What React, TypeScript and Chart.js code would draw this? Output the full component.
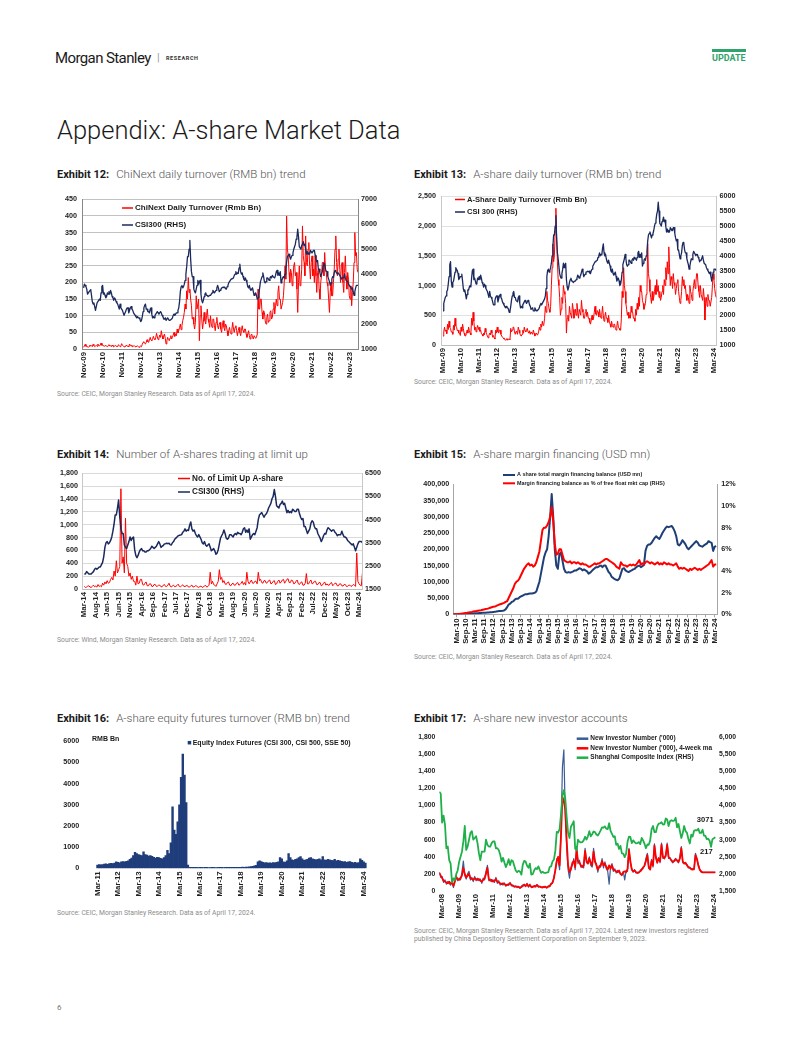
import React, { useEffect, useRef } from 'react';
import { Chart, registerables } from 'chart.js';

Chart.register(...registerables);

// ---------------- tick labels ----------------
const X12_LABELS = ['Nov-09', 'Nov-10', 'Nov-11', 'Nov-12', 'Nov-13', 'Nov-14', 'Nov-15', 'Nov-16', 'Nov-17', 'Nov-18', 'Nov-19', 'Nov-20', 'Nov-21', 'Nov-22', 'Nov-23'];
const X13_LABELS = ['Mar-09', 'Mar-10', 'Mar-11', 'Mar-12', 'Mar-13', 'Mar-14', 'Mar-15', 'Mar-16', 'Mar-17', 'Mar-18', 'Mar-19', 'Mar-20', 'Mar-21', 'Mar-22', 'Mar-23', 'Mar-24'];
const X14_LABELS = ['Mar-14', 'Aug-14', 'Jan-15', 'Jun-15', 'Nov-15', 'Apr-16', 'Sep-16', 'Feb-17', 'Jul-17', 'Dec-17', 'May-18', 'Oct-18', 'Mar-19', 'Aug-19', 'Jan-20', 'Jun-20', 'Nov-20', 'Apr-21', 'Sep-21', 'Feb-22', 'Jul-22', 'Dec-22', 'May-23', 'Oct-23', 'Mar-24'];
const X15_LABELS = ['Mar-10', 'Sep-10', 'Mar-11', 'Sep-11', 'Mar-12', 'Sep-12', 'Mar-13', 'Sep-13', 'Mar-14', 'Sep-14', 'Mar-15', 'Sep-15', 'Mar-16', 'Sep-16', 'Mar-17', 'Sep-17', 'Mar-18', 'Sep-18', 'Mar-19', 'Sep-19', 'Mar-20', 'Sep-20', 'Mar-21', 'Sep-21', 'Mar-22', 'Sep-22', 'Mar-23', 'Sep-23', 'Mar-24'];
const X16_LABELS = ['Mar-11', 'Mar-12', 'Mar-13', 'Mar-14', 'Mar-15', 'Mar-16', 'Mar-17', 'Mar-18', 'Mar-19', 'Mar-20', 'Mar-21', 'Mar-22', 'Mar-23', 'Mar-24'];
const X17_LABELS = ['Mar-08', 'Mar-09', 'Mar-10', 'Mar-11', 'Mar-12', 'Mar-13', 'Mar-14', 'Mar-15', 'Mar-16', 'Mar-17', 'Mar-18', 'Mar-19', 'Mar-20', 'Mar-21', 'Mar-22', 'Mar-23', 'Mar-24'];

// ---------------- series ----------------
// CSI300, half-monthly, Mar-09 .. Apr-24
const CSI300 = [
  2150, 2400, 2500, 2600, 2650, 2800, 2850, 3050, 3300, 3700, 3800, 3150, 2950, 3100, 3150, 3300, 3450, 3600, 3550, 3500,
  3400, 3200, 3250, 3300, 3300, 3380, 3150, 2900, 2800, 2850, 2700, 2550, 2700, 2850, 2850, 2950, 3000, 2950, 3250, 3500, 3550, 3200, 3250, 3150,
  3050, 3100, 3250, 3200, 3300, 3200, 3350, 3250, 3100, 3050, 2950, 3050, 3000, 2900, 2850, 2800, 2700, 2600, 2800, 2650, 2600, 2550, 2450, 2350,
  2350, 2500, 2600, 2650, 2650, 2450, 2550, 2650, 2700, 2600, 2550, 2450, 2400, 2350, 2300, 2250, 2300, 2250, 2250, 2200, 2100, 2150, 2300, 2500,
  2650, 2750, 2800, 2600, 2600, 2500, 2500, 2450, 2600, 2650, 2400, 2250, 2300, 2250, 2350, 2400, 2450, 2500, 2450, 2400, 2450, 2500, 2450, 2350,
  2300, 2200, 2200, 2250, 2150, 2150, 2250, 2200, 2150, 2150, 2150, 2200, 2250, 2350, 2400, 2350, 2400, 2450, 2450, 2550, 2650, 2900, 3300, 3500,
  3550, 3450, 3500, 3600, 3750, 4000, 4300, 4700, 4700, 5000, 5350, 4600, 4100, 3900, 3900, 3400, 3300, 3250, 3400, 3550, 3750, 3600, 3700, 3750,
  3200, 2950, 2850, 2950, 3100, 3200, 3250, 3150, 3150, 3100, 3100, 3150, 3150, 3200, 3250, 3350, 3300, 3250, 3300, 3350, 3450, 3550, 3450, 3300,
  3350, 3380, 3450, 3460, 3480, 3460, 3480, 3420, 3400, 3500, 3550, 3650, 3700, 3750, 3800, 3820, 3830, 3850, 3950, 4000, 4100, 4000, 4050, 4030,
  4250, 4400, 4100, 4000, 4050, 3900, 3800, 3750, 3850, 3750, 3650, 3500, 3450, 3550, 3400, 3350, 3400, 3450, 3300, 3150, 3200, 3250, 3150, 3000,
  3050, 3200, 3450, 3700, 3800, 3900, 4050, 3900, 3700, 3650, 3700, 3850, 3850, 3800, 3750, 3850, 3900, 3850, 3950, 3900, 3900, 3850, 3950, 4100,
  4150, 3950, 4050, 3950, 4100, 3650, 3750, 3850, 3900, 3850, 4000, 4150, 4500, 4700, 4750, 4800, 4700, 4600, 4700, 4750, 4850, 5000, 5100, 5200,
  5400, 5500, 5800, 5500, 5100, 5050, 5000, 5150, 5200, 5300, 5150, 5200, 5000, 4800, 4900, 4800, 4850, 4800, 4950, 4900, 4850, 4850, 4950, 4950,
  4750, 4600, 4500, 4550, 4200, 4200, 4050, 3900, 4000, 4100, 4350, 4450, 4400, 4200, 4100, 4100, 3900, 3800, 3700, 3550, 3650, 3800, 3900, 3870,
  4050, 4150, 4100, 4050, 4000, 4050, 4050, 3950, 3900, 3800, 3850, 3850, 3850, 4000, 3850, 3750, 3750, 3700, 3600, 3550, 3500, 3450, 3400, 3450,
  3300, 3150, 3300, 3450, 3550, 3550, 3550, 3500,
];
// ChiNext daily turnover (Rmb bn), half-monthly, Nov-09 .. Apr-24
const CHINEXT_TURNOVER = [
  5, 9, 14, 8,
  9, 6, 5, 8, 12, 9, 10, 7, 14, 10, 7, 9, 11, 8, 15, 10, 9, 12, 18, 11, 13, 9, 8, 10,
  11, 8, 7, 10, 13, 9, 10, 7, 12, 9, 6, 8, 11, 8, 9, 7, 13, 10, 7, 9, 16, 11, 9, 7,
  6, 9, 12, 8, 9, 7, 15, 10, 11, 8, 7, 9, 10, 7, 6, 9, 9, 7, 5, 8, 9, 7, 14, 20,
  22, 17, 15, 20, 28, 22, 20, 26, 35, 27, 25, 31, 38, 30, 28, 34, 47, 36, 28, 33, 42, 35, 55, 40,
  30, 38, 45, 32, 15, 25, 35, 28, 25, 33, 40, 30, 35, 42, 50, 38, 45, 40, 60, 48, 55, 65, 75, 58,
  70, 85, 95, 110, 135, 120, 175, 150, 215, 170, 180, 150, 130, 90, 95, 75, 60, 80, 160, 120, 120, 150, 25, 100,
  130, 90, 60, 80, 110, 85, 75, 100, 120, 90, 80, 65, 100, 75, 65, 90, 90, 70, 55, 80, 95, 70, 60, 75,
  80, 60, 50, 70, 85, 65, 55, 75, 70, 55, 40, 55, 65, 50, 45, 60, 80, 60, 50, 65, 70, 55, 40, 55,
  65, 50, 40, 55, 70, 55, 50, 60, 60, 45, 35, 45, 55, 40, 30, 42, 45, 35, 30, 40, 40, 32, 35, 45,
  180, 120, 120, 150, 150, 110, 90, 115, 110, 85, 75, 95, 105, 80, 85, 110, 115, 90, 95, 120, 140, 105, 130, 150,
  130, 170, 190, 150, 150, 120, 120, 140, 160, 200, 250, 210, 400, 300, 280, 230, 200, 240, 230, 190, 210, 250, 260, 220,
  230, 180, 110, 200, 250, 190, 200, 240, 370, 280, 260, 220, 340, 260, 250, 300, 320, 250, 210, 260, 280, 220, 240, 200,
  280, 220, 170, 230, 240, 180, 150, 200, 220, 260, 260, 220, 290, 240, 230, 200, 190, 150, 110, 170, 200, 160, 160, 200,
  240, 300, 340, 260, 220, 270, 300, 240, 200, 250, 260, 200, 170, 230, 280, 220, 180, 230, 210, 160, 150, 190, 130, 170,
  200, 260, 350, 280, 290, 240, 230, 220,
];
// A-share daily turnover (Rmb bn), half-monthly, Mar-09 .. Apr-24
const ASHARE_TURNOVER = [
  150, 220, 300, 230, 250, 190, 350, 260, 400, 300, 280, 220, 220, 180, 330, 250, 450, 320, 300, 240,
  250, 200, 200, 160, 300, 230, 350, 280, 200, 160, 150, 190, 250, 200, 300, 240, 200, 170, 450, 330, 550, 400, 250, 300,
  220, 280, 330, 260, 300, 230, 250, 190, 180, 150, 200, 170, 280, 220, 180, 150, 120, 160, 200, 170, 250, 200, 130, 160,
  120, 100, 250, 200, 300, 220, 200, 250, 250, 180, 150, 130, 120, 100, 100, 80, 90, 110, 80, 100, 100, 90, 280, 220,
  250, 300, 300, 220, 180, 230, 220, 180, 300, 250, 200, 160, 150, 180, 250, 200, 300, 240, 220, 260, 280, 220, 200, 240,
  180, 220, 220, 180, 250, 200, 150, 180, 200, 170, 180, 220, 300, 250, 350, 300, 400, 330, 350, 450, 650, 550, 900, 750,
  700, 600, 550, 650, 1000, 1300, 1700, 1400, 1500, 1900, 2300, 1800, 1400, 1100, 1000, 800, 500, 600, 800, 700, 1000, 900, 850, 700,
  200, 450, 500, 400, 650, 550, 550, 450, 700, 600, 450, 500, 600, 500, 700, 550, 450, 600, 600, 500, 750, 600, 550, 450,
  450, 550, 600, 480, 550, 450, 450, 380, 350, 420, 500, 420, 450, 550, 650, 520, 500, 580, 550, 470, 600, 500, 450, 520,
  650, 500, 400, 480, 550, 450, 450, 380, 500, 400, 350, 300, 400, 330, 300, 350, 350, 280, 250, 320, 400, 300, 280, 250,
  250, 450, 900, 800, 1300, 1000, 900, 700, 600, 500, 550, 450, 500, 450, 650, 550, 550, 450, 450, 400, 600, 500, 700, 600,
  800, 650, 1000, 900, 900, 750, 700, 600, 650, 700, 850, 900, 1700, 1200, 1100, 900, 800, 700, 900, 750, 800, 900, 1000, 850,
  1100, 900, 1000, 800, 900, 750, 800, 900, 1000, 850, 1100, 1000, 1300, 1100, 1400, 1200, 1650, 1300, 1000, 1150, 1100, 950, 1200, 1050,
  1000, 850, 950, 1050, 1100, 900, 800, 700, 750, 900, 1150, 1000, 1100, 950, 1000, 850, 750, 850, 800, 700, 1000, 900, 850, 750,
  900, 1000, 1100, 950, 1050, 1200, 1200, 1000, 900, 800, 1000, 850, 850, 750, 950, 800, 420, 700, 800, 650, 850, 750, 750, 650,
  650, 800, 1000, 1200, 1100, 950, 850, 800,
];
// No. of limit-up A-shares, half-monthly, Mar-14 .. Apr-24
const LIMIT_UP = [
  40, 25, 30, 45, 50, 30, 25, 40, 60, 35, 45, 30, 70, 40, 50, 35, 90, 60, 110, 80,
  130, 90, 100, 150, 180, 140, 280, 200, 440, 250, 300, 350, 1560, 400, 500, 250, 1100, 400, 350, 200, 250, 150, 200, 120,
  120, 60, 200, 80, 90, 150, 150, 70, 60, 90, 110, 50, 50, 80, 80, 40, 40, 70, 70, 40, 45, 60, 60, 35,
  35, 60, 70, 40, 40, 60, 90, 45, 30, 50, 60, 35, 40, 55, 75, 40, 35, 50, 65, 40, 40, 50, 55, 30,
  30, 50, 60, 30, 35, 50, 50, 30, 25, 40, 45, 25, 30, 50, 55, 30, 40, 60, 260, 80, 120, 70, 60, 40,
  80, 120, 300, 150, 180, 100, 130, 80, 70, 100, 110, 60, 50, 80, 90, 60, 60, 90, 100, 60, 70, 90, 120, 70,
  100, 60, 260, 120, 80, 110, 140, 90, 90, 120, 120, 80, 260, 130, 150, 100, 90, 130, 130, 90, 100, 130, 140, 80,
  90, 120, 130, 70, 80, 120, 140, 90, 110, 140, 150, 90, 120, 150, 160, 100, 100, 140, 130, 80, 90, 120, 140, 80,
  70, 100, 110, 60, 60, 90, 240, 80, 80, 120, 140, 80, 90, 120, 120, 70, 70, 100, 100, 50, 60, 90, 110, 60,
  80, 60, 60, 90, 100, 50, 70, 90, 90, 50, 50, 80, 80, 50, 45, 70, 70, 40, 40, 60, 60, 40, 50, 70,
  60, 40, 560, 120, 80, 60, 50, 250,
];
// Margin financing balance (USD mn), monthly, Jan-10 .. Apr-24
const MARGIN_BALANCE = [
  0, 0, 0, 300, 500, 700, 900, 1100, 1300, 1600, 2000, 2200,
  2500, 2800, 3000, 3300, 3600, 3900, 4200, 4500, 4700, 5000, 5300, 5500,
  6000, 6500, 7000, 7500, 8500, 9500, 10000, 10500, 11000, 12000, 15000, 22000,
  30000, 33000, 38000, 40000, 45000, 48000, 48000, 52000, 55000, 57000, 60000, 62000,
  62000, 63000, 64000, 64000, 65000, 66000, 70000, 85000, 100000, 125000, 150000, 175000,
  190000, 200000, 240000, 300000, 370000, 300000, 200000, 150000, 140000, 185000, 190000, 165000,
  140000, 130000, 128000, 130000, 128000, 130000, 132000, 135000, 135000, 138000, 142000, 140000,
  135000, 138000, 135000, 132000, 125000, 128000, 133000, 138000, 142000, 145000, 145000, 148000,
  150000, 145000, 150000, 150000, 140000, 130000, 125000, 115000, 112000, 108000, 106000, 105000,
  110000, 125000, 140000, 142000, 135000, 132000, 130000, 133000, 135000, 138000, 140000, 145000,
  148000, 150000, 145000, 148000, 152000, 195000, 210000, 215000, 215000, 220000, 228000, 235000,
  240000, 235000, 232000, 240000, 250000, 258000, 265000, 270000, 268000, 270000, 272000, 265000,
  255000, 240000, 215000, 212000, 218000, 228000, 222000, 215000, 205000, 200000, 205000, 210000,
  215000, 220000, 225000, 220000, 212000, 210000, 208000, 212000, 215000, 218000, 225000, 222000,
  220000, 195000, 208000, 210000,
];
// Margin balance as % of free float mkt cap, monthly, Jan-10 .. Apr-24
const MARGIN_PCT = [
  0, 0, 0, 0.02, 0.04, 0.06, 0.08, 0.1, 0.12, 0.14, 0.17, 0.2,
  0.22, 0.25, 0.28, 0.3, 0.33, 0.36, 0.38, 0.42, 0.45, 0.48, 0.5, 0.55,
  0.6, 0.65, 0.7, 0.72, 0.78, 0.85, 0.9, 0.95, 1.0, 1.05, 1.15, 1.2,
  1.5, 1.8, 2.1, 2.4, 2.8, 3.0, 3.1, 3.3, 3.6, 3.9, 4.2, 4.4,
  4.6, 4.7, 4.5, 4.6, 4.4, 4.5, 4.8, 5.3, 5.8, 6.8, 7.8, 8.0,
  8.0, 8.2, 8.5, 9.0, 9.9, 8.6, 6.5, 5.5, 5.6, 6.0, 6.0, 5.5,
  5.0, 4.9, 4.8, 4.8, 4.9, 4.7, 4.8, 4.8, 4.7, 4.8, 4.7, 4.6,
  4.7, 4.6, 4.6, 4.5, 4.4, 4.4, 4.5, 4.6, 4.7, 4.6, 4.7, 4.7,
  4.8, 4.9, 5.0, 5.1, 5.1, 5.0, 4.9, 4.8, 4.7, 4.6, 4.4, 4.3,
  4.2, 4.8, 4.6, 4.5, 4.5, 4.4, 4.5, 4.6, 4.5, 4.6, 4.5, 4.6,
  4.8, 5.0, 4.6, 4.7, 4.6, 4.8, 4.9, 4.8, 4.7, 4.8, 4.7, 4.6,
  4.7, 4.8, 4.6, 4.7, 4.6, 4.8, 4.7, 4.6, 4.7, 4.6, 4.6, 4.5,
  4.6, 4.7, 4.4, 4.2, 4.3, 4.2, 4.3, 4.2, 4.1, 4.0, 4.2, 4.1,
  4.2, 4.3, 4.2, 4.1, 4.2, 4.1, 4.2, 4.3, 4.4, 4.5, 4.6, 4.8,
  5.0, 4.4, 4.6, 4.6,
];
// Equity index futures turnover (RMB bn), monthly, Mar-11 .. Apr-24
const FUTURES_TURNOVER = [
  150, 170, 160, 180, 200, 210, 190, 220, 230, 220,
  240, 300, 280, 260, 300, 320, 300, 330, 350, 420, 480, 600,
  750, 700, 650, 620, 600, 780, 650, 620, 580, 600, 560, 520,
  480, 520, 500, 470, 450, 500, 600, 850, 700, 1200, 2900, 1800,
  1600, 2200, 3000, 4300, 5400, 4400, 3100, 150, 50, 40, 45, 40,
  40, 35, 40, 40, 35, 40, 40, 35, 35, 40, 40, 35,
  35, 40, 40, 40, 35, 40, 40, 45, 40, 40, 45, 45,
  50, 45, 50, 55, 50, 55, 60, 70, 80, 90, 110, 140,
  300, 350, 320, 280, 260, 270, 250, 260, 250, 270, 260, 280,
  300, 500, 450, 300, 280, 350, 700, 500, 400, 380, 420, 450,
  500, 550, 450, 380, 400, 420, 480, 500, 450, 420, 400, 420,
  450, 400, 550, 400, 380, 420, 400, 380, 360, 420, 350, 380,
  350, 330, 300, 320, 280, 300, 320, 280, 260, 280, 250, 270,
  450, 380, 300, 250,
];
// New investor number ('000), monthly, Jan-08 .. Apr-24
const NEW_INVESTORS = [
  220, 160, 170, 100, 130, 80, 110, 90, 70, 110, 40, 130,
  180, 120, 150, 130, 220, 350, 180, 140, 200, 230, 130, 160,
  110, 170, 120, 150, 120, 140, 90, 150, 130, 230, 300, 120,
  140, 110, 130, 100, 160, 90, 120, 70, 90, 70, 95, 55,
  80, 65, 100, 60, 70, 45, 60, 40, 55, 30, 55, 70,
  80, 50, 90, 45, 80, 40, 55, 50, 60, 75, 45, 55,
  40, 50, 40, 55, 35, 60, 50, 90, 90, 170, 230, 380,
  350, 250, 700, 1450, 1650, 900, 500, 250, 150, 280, 300, 380,
  250, 520, 320, 360, 280, 300, 270, 500, 330, 340, 400, 300,
  280, 500, 330, 320, 220, 300, 280, 380, 270, 340, 260, 230,
  80, 280, 320, 230, 260, 210, 240, 220, 200, 180, 230, 130,
  240, 230, 500, 330, 260, 220, 250, 210, 220, 210, 240, 260,
  280, 290, 380, 440, 260, 270, 370, 280, 550, 380, 340, 390,
  330, 560, 380, 400, 400, 560, 380, 390, 350, 330, 360, 380,
  350, 330, 400, 520, 330, 330, 320, 310, 270, 280, 250, 260,
  250, 440, 370, 310, 250, 220, 217, 217, 217, 217, 217, 217,
  217, 217, 217, 217,
];
// New investor number ('000), 4-week ma, monthly, Jan-08 .. Apr-24
const NEW_INVESTORS_MA = [
  210, 180, 150, 120, 110, 100, 90, 110, 85, 95, 60, 110,
  160, 140, 130, 150, 180, 270, 200, 160, 180, 200, 150, 140,
  130, 150, 140, 130, 140, 120, 110, 130, 150, 200, 270, 140,
  120, 130, 110, 120, 140, 110, 100, 90, 80, 90, 80, 70,
  70, 80, 90, 70, 60, 55, 50, 50, 45, 40, 45, 60,
  70, 60, 80, 55, 70, 50, 45, 60, 50, 70, 55, 50,
  45, 40, 50, 45, 40, 50, 60, 80, 100, 150, 250, 350,
  400, 300, 650, 1100, 1050, 950, 600, 300, 220, 250, 330, 350,
  280, 480, 350, 330, 300, 280, 300, 470, 350, 320, 380, 330,
  300, 460, 350, 300, 250, 280, 300, 350, 300, 320, 280, 250,
  300, 260, 300, 250, 240, 230, 220, 240, 200, 190, 220, 230,
  220, 260, 480, 350, 250, 230, 240, 220, 210, 220, 230, 250,
  270, 300, 350, 420, 280, 250, 350, 300, 530, 400, 330, 380,
  350, 540, 400, 380, 420, 540, 400, 380, 360, 340, 350, 370,
  360, 340, 380, 500, 350, 320, 330, 300, 280, 270, 260, 250,
  260, 420, 380, 300, 250, 230, 217, 217, 217, 217, 217, 217,
  217, 217, 217, 217,
];
// Shanghai Composite Index, monthly, Jan-08 .. Apr-24
const SHCOMP = [
  4400, 4350, 3500, 3700, 3450, 2750, 2800, 2400, 2300, 1750, 1870, 1820,
  2000, 2100, 2350, 2500, 2650, 2950, 3400, 2700, 2800, 3000, 3200, 3250,
  3000, 3050, 3100, 2900, 2600, 2400, 2650, 2650, 2650, 3000, 2850, 2800,
  2800, 2900, 2950, 2950, 2750, 2750, 2700, 2570, 2360, 2470, 2330, 2200,
  2290, 2430, 2260, 2400, 2370, 2230, 2100, 2050, 2090, 2070, 1980, 2270,
  2380, 2360, 2240, 2180, 2300, 1980, 1990, 2100, 2170, 2140, 2220, 2120,
  2030, 2060, 2030, 2030, 2040, 2050, 2200, 2220, 2360, 2420, 2680, 3230,
  3210, 3310, 3750, 4300, 4450, 4200, 3660, 3200, 3050, 3380, 3450, 3540,
  2740, 2690, 3000, 2940, 2920, 2930, 2980, 3085, 3005, 3100, 3250, 3100,
  3160, 3240, 3220, 3150, 3120, 3190, 3270, 3360, 3350, 3390, 3320, 3310,
  3480, 3260, 3170, 3080, 3100, 2850, 2880, 2730, 2820, 2600, 2590, 2490,
  2590, 2940, 3090, 3080, 2900, 2980, 2930, 2890, 2900, 2930, 2870, 3050,
  2980, 2880, 2750, 2860, 2850, 2980, 3310, 3400, 3220, 3220, 3390, 3470,
  3480, 3510, 3440, 3450, 3620, 3590, 3400, 3540, 3570, 3550, 3560, 3640,
  3360, 3460, 3250, 3050, 3190, 3400, 3250, 3200, 3020, 2890, 3150, 3090,
  3260, 3280, 3270, 3320, 3200, 3200, 3290, 3120, 3110, 3020, 3030, 2970,
  2790, 3015, 3040, 3071,
];

// ---------------- helpers ----------------
const TICK_FAMILY = "'Liberation Sans', Arial, Helvetica, sans-serif";
const TEXT_FAMILY = "Roboto, 'Liberation Sans', Arial, sans-serif";
const tickFont = (size: number) => ({ family: TICK_FAMILY, size, weight: 'bold' as const });

const toPoints = (values: number[], start = 0, step = 1) => values.map((y, i) => ({ x: start + i * step, y }));
const commas = (v: number) => Math.round(v).toLocaleString('en-US');
const plain = (v: number) => String(Math.round(v));

function xAxis(o: { min: number; max: number; pos: number[]; labels: string[]; height: number; size?: number; tickMarks?: boolean; border?: string }) {
  return {
    type: 'linear',
    position: 'bottom',
    min: o.min,
    max: o.max,
    afterBuildTicks: (ax: any) => { ax.ticks = o.pos.map((value) => ({ value })); },
    afterFit: (ax: any) => { ax.height = o.height; },
    ticks: {
      autoSkip: false, minRotation: 90, maxRotation: 90, padding: o.tickMarks ? 1 : 3,
      color: '#222', font: tickFont(o.size ?? 7.8),
      callback: (_v: any, i: number) => o.labels[i] ?? '',
    },
    grid: { display: !!o.tickMarks, drawOnChartArea: false, drawTicks: !!o.tickMarks, tickLength: 3, color: o.border ?? '#999', lineWidth: 1 },
    border: { display: !!o.border, color: o.border ?? '#999', width: 1 },
  };
}

function yAxis(o: { position: 'left' | 'right'; min: number; max: number; step: number; width: number; fmt: (v: number) => string; grid?: string; border?: string; size?: number; pad?: number }) {
  const vals: number[] = [];
  for (let v = o.min; v <= o.max + 1e-9; v += o.step) vals.push(v);
  return {
    type: 'linear',
    position: o.position,
    min: o.min,
    max: o.max,
    afterBuildTicks: (ax: any) => { ax.ticks = vals.map((value) => ({ value })); },
    afterFit: (ax: any) => { ax.width = o.width; },
    ticks: { padding: o.pad ?? 4, color: '#222', font: tickFont(o.size ?? 7.2), callback: (v: number) => o.fmt(v) },
    grid: { display: !!o.grid, drawOnChartArea: !!o.grid, drawTicks: false, color: o.grid ?? '#ccc', lineWidth: 0.8 },
    border: { display: !!o.border, color: o.border ?? '#999', width: 1 },
  };
}

type LegendItem = { text: string; color?: string; kind: 'line' | 'box' | 'text'; x: number; y: number; len?: number; lw?: number; gap?: number };
function legendPlugin(id: string, items: LegendItem[], size: number) {
  return {
    id,
    afterDraw(chart: any) {
      const ctx = chart.ctx;
      ctx.save();
      ctx.font = `bold ${size}px ${TICK_FAMILY}`;
      ctx.textBaseline = 'middle';
      for (const it of items) {
        let tx = it.x;
        const len = it.len ?? 12;
        if (it.kind === 'line') {
          ctx.strokeStyle = it.color;
          ctx.lineWidth = it.lw ?? 2;
          ctx.beginPath();
          ctx.moveTo(it.x, it.y);
          ctx.lineTo(it.x + len, it.y);
          ctx.stroke();
          tx = it.x + len + (it.gap ?? 2);
        } else if (it.kind === 'box') {
          ctx.fillStyle = it.color;
          ctx.fillRect(it.x, it.y - len / 2, len, len);
          tx = it.x + len + (it.gap ?? 2);
        }
        ctx.fillStyle = '#1a1a1a';
        ctx.fillText(it.text, tx, it.y);
      }
      ctx.restore();
    },
  };
}

function baseOptions(padTop: number, padRight: number, scales: any) {
  return {
    responsive: false,
    animation: false,
    devicePixelRatio: 1,
    events: [],
    layout: { padding: { top: padTop, right: padRight, left: 0, bottom: 0 } },
    plugins: { legend: { display: false }, tooltip: { enabled: false } },
    elements: { point: { radius: 0 }, line: { tension: 0 } },
    scales,
  };
}

const line = (data: any[], color: string, width: number, axis: string) => ({
  type: 'line', data, borderColor: color, backgroundColor: color, borderWidth: width,
  yAxisID: axis, pointRadius: 0, fill: false, borderJoinStyle: 'round',
});

// ---------------- chart configs ----------------
const RED = '#ff0000';
const NAVY = '#1b2a5e';

function config12() {
  return {
    type: 'line',
    data: {
      datasets: [
        line(toPoints(CSI300.slice(16), 0, 0.5), NAVY, 1.3, 'yR'),
        line(toPoints(CHINEXT_TURNOVER, 0, 0.5), RED, 1, 'yL'),
      ],
    },
    options: baseOptions(7, 0, {
      x: xAxis({ min: -1, max: 173, pos: X12_LABELS.map((_, i) => i * 12), labels: X12_LABELS, height: 33, border: '#888' }),
      yL: yAxis({ position: 'left', min: 0, max: 450, step: 50, width: 27, fmt: plain, grid: '#b3b3b3', border: '#888', pad: 5 }),
      yR: yAxis({ position: 'right', min: 1000, max: 7000, step: 1000, width: 37, fmt: plain, border: '#888', pad: 3 }),
    }),
    plugins: [legendPlugin('lg12', [
      { kind: 'line', text: 'ChiNext Daily Turnover (Rmb Bn)', color: RED, x: 67, y: 18, len: 11, lw: 1.5 },
      { kind: 'line', text: 'CSI300 (RHS)', color: NAVY, x: 67, y: 35, len: 11, lw: 1.5 },
    ], 8)],
  };
}

function config13() {
  return {
    type: 'line',
    data: {
      datasets: [
        line(toPoints(CSI300, 0, 0.5), NAVY, 1.3, 'yR'),
        line(toPoints(ASHARE_TURNOVER, 0, 0.5), RED, 1, 'yL'),
      ],
    },
    options: baseOptions(7, 0, {
      x: xAxis({ min: -1.33, max: 181.7, pos: X13_LABELS.map((_, i) => i * 12), labels: X13_LABELS, height: 32, border: '#bdbdbd' }),
      yL: yAxis({ position: 'left', min: 0, max: 2500, step: 500, width: 31, fmt: commas, grid: '#d9d9d9', border: '#c8c8c8', pad: 5 }),
      yR: yAxis({ position: 'right', min: 1000, max: 6000, step: 500, width: 33.5, fmt: plain, border: '#c8c8c8', pad: 3 }),
    }),
    plugins: [legendPlugin('lg13', [
      { kind: 'line', text: 'A-Share Daily Turnover (Rmb Bn)', color: RED, x: 45, y: 12.5, len: 10, lw: 1.5 },
      { kind: 'line', text: 'CSI 300 (RHS)', color: NAVY, x: 45, y: 25, len: 10, lw: 1.5 },
    ], 7.6)],
  };
}

function config14() {
  return {
    type: 'line',
    data: {
      datasets: [
        line(toPoints(CSI300.slice(120), 0, 0.5), NAVY, 1.5, 'yR'),
        line(toPoints(LIMIT_UP, 0, 0.5), RED, 1, 'yL'),
      ],
    },
    options: baseOptions(7, 0, {
      x: xAxis({ min: -1, max: 121.3, pos: X14_LABELS.map((_, i) => i * 5), labels: X14_LABELS, height: 36, border: '#bdbdbd' }),
      yL: yAxis({ position: 'left', min: 0, max: 1800, step: 200, width: 27, fmt: commas, grid: '#d0d0d0', border: '#c8c8c8', pad: 4 }),
      yR: yAxis({ position: 'right', min: 1500, max: 6500, step: 500, width: 33, fmt: plain, border: '#c8c8c8', pad: 3 }),
    }),
    plugins: [legendPlugin('lg14', [
      { kind: 'line', text: 'No. of Limit Up A-share', color: RED, x: 123, y: 13.5, len: 12, lw: 1.5 },
      { kind: 'line', text: 'CSI300 (RHS)', color: NAVY, x: 123, y: 27, len: 12, lw: 1.5 },
    ], 8.2)],
  };
}

function config15() {
  const BLUE = '#1f3f77';
  return {
    type: 'line',
    data: {
      datasets: [
        line(toPoints(MARGIN_PCT), RED, 2, 'yR'),
        line(toPoints(MARGIN_BALANCE), BLUE, 2, 'yL'),
      ],
    },
    options: baseOptions(18.3, 0, {
      x: xAxis({ min: 0, max: 171.7, pos: X15_LABELS.map((_, i) => 2 + i * 6), labels: X15_LABELS, height: 35.7, border: '#a6a6a6', tickMarks: true }),
      yL: yAxis({ position: 'left', min: 0, max: 400000, step: 50000, width: 43.3, fmt: commas, border: '#a6a6a6', pad: 4 }),
      yR: yAxis({ position: 'right', min: 0, max: 12, step: 2, width: 32.7, fmt: (v) => `${Math.round(v)}%`, border: '#a6a6a6', pad: 4 }),
    }),
    plugins: [legendPlugin('lg15', [
      { kind: 'line', text: 'A share total margin financing balance (USD mn)', color: BLUE, x: 93, y: 9, len: 12, lw: 2 },
      { kind: 'line', text: 'Margin financing balance as % of free float mkt cap (RHS)', color: RED, x: 93, y: 17.3, len: 12, lw: 2 },
    ], 5.4)],
  };
}

function config16() {
  const BAR = '#1f3d7a';
  return {
    type: 'bar',
    data: {
      datasets: [
        {
          type: 'bar', data: toPoints(FUTURES_TURNOVER), backgroundColor: BAR, borderWidth: 0,
          barPercentage: 1, categoryPercentage: 1, inflateAmount: 0.35, yAxisID: 'yL',
        },
      ],
    },
    options: baseOptions(7.3, 18.3, {
      x: xAxis({ min: -1.6, max: 157.5, pos: X16_LABELS.map((_, i) => i * 12), labels: X16_LABELS, height: 33.7 }),
      yL: yAxis({ position: 'left', min: 0, max: 6000, step: 1000, width: 29.3, fmt: plain, pad: 5 }),
    }),
    plugins: [legendPlugin('lg16', [
      { kind: 'text', text: 'RMB Bn', x: 37, y: 7.5 },
      { kind: 'box', text: 'Equity Index Futures (CSI 300, CSI 500, SSE 50)', color: BAR, x: 132.7, y: 10.7, len: 3.5, gap: 1.5 },
    ], 7)],
  };
}

function config17() {
  const BLUE = '#3b5c96';
  const GREEN = '#1fb04a';
  const lastIdx = SHCOMP.length - 1;
  return {
    type: 'line',
    data: {
      datasets: [
        line(toPoints(SHCOMP), GREEN, 1.8, 'yR'),
        line(toPoints(NEW_INVESTORS_MA), RED, 1.8, 'yL'),
        line(toPoints(NEW_INVESTORS), BLUE, 1.2, 'yL'),
      ],
    },
    options: baseOptions(7.7, 0, {
      x: xAxis({ min: 0, max: 195.5, pos: X17_LABELS.map((_, i) => 2 + i * 12), labels: X17_LABELS, height: 32, size: 7.6 }),
      yL: yAxis({ position: 'left', min: 0, max: 1800, step: 200, width: 29.3, fmt: commas, size: 6.8, pad: 4 }),
      yR: yAxis({ position: 'right', min: 1500, max: 6000, step: 500, width: 34, fmt: commas, size: 6.8, pad: 3 }),
    }),
    plugins: [
      legendPlugin('lg17', [
        { kind: 'line', text: "New Investor Number ('000)", color: BLUE, x: 166.7, y: 9.7, len: 11.6, lw: 2.5 },
        { kind: 'line', text: "New Investor Number ('000), 4-week ma", color: RED, x: 166.7, y: 19.3, len: 11.6, lw: 2.5 },
        { kind: 'line', text: 'Shanghai Composite Index (RHS)', color: GREEN, x: 166.7, y: 28.7, len: 11.6, lw: 2.5 },
      ], 6.5),
      {
        id: 'ann17',
        afterDraw(chart: any) {
          const { ctx, scales } = chart;
          const x = scales.x.getPixelForValue(lastIdx) - 10;
          ctx.save();
          ctx.font = `bold 7.6px ${TICK_FAMILY}`;
          ctx.fillStyle = '#1a1a1a';
          ctx.textAlign = 'center';
          ctx.textBaseline = 'middle';
          ctx.fillText(String(SHCOMP[lastIdx]), x, scales.yR.getPixelForValue(SHCOMP[lastIdx]) - 17);
          ctx.fillText(String(NEW_INVESTORS_MA[lastIdx]), x + 1, scales.yL.getPixelForValue(NEW_INVESTORS_MA[lastIdx]) - 20.5);
          ctx.restore();
        },
      },
    ],
  };
}

// ---------------- components ----------------
function ChartCanvas({ left, top, width, height, build }: { left: number; top: number; width: number; height: number; build: () => any }) {
  const ref = useRef<HTMLCanvasElement>(null);
  useEffect(() => {
    const chart = new Chart(ref.current as HTMLCanvasElement, build());
    return () => chart.destroy();
  }, []);
  return <canvas ref={ref} width={width} height={height} style={{ position: 'absolute', left, top, width, height }} />;
}

function Title({ x, y, num, text }: { x: number; y: number; num: string; text: string }) {
  return (
    <div style={{ position: 'absolute', left: x, top: y - 9, lineHeight: '15px', whiteSpace: 'nowrap', fontFamily: TEXT_FAMILY }}>
      <span style={{ fontSize: 11, fontWeight: 700, color: '#1a1a1a' }}>{num}</span>
      <span style={{ fontSize: 11.5, fontWeight: 300, color: '#555', marginLeft: 7 }}>{text}</span>
    </div>
  );
}

function Source({ x, y, lines }: { x: number; y: number; lines: string[] }) {
  return (
    <div style={{ position: 'absolute', left: x, top: y - 5.5, fontSize: 6.8, lineHeight: '8.3px', color: '#8c8c8c', whiteSpace: 'nowrap', fontFamily: TEXT_FAMILY }}>
      {lines.map((l, i) => <div key={i}>{l}</div>)}
    </div>
  );
}

const SRC_CEIC = 'Source: CEIC, Morgan Stanley Research. Data as of April 17, 2024.';
const SRC_WIND = 'Source: Wind, Morgan Stanley Research. Data as of April 17, 2024.';

export default function App() {
  return (
    <div style={{ position: 'absolute', left: 0, top: 0, width: 802, height: 1037, background: '#fff', overflow: 'hidden', fontFamily: TEXT_FAMILY }}>
      {/* header */}
      <div style={{ position: 'absolute', left: 55, top: 50, fontSize: 15, lineHeight: '16px', letterSpacing: -0.6, color: '#1a1a1a', whiteSpace: 'nowrap' }}>Morgan Stanley</div>
      <div style={{ position: 'absolute', left: 157, top: 51, fontSize: 11, lineHeight: '14px', color: '#999' }}>|</div>
      <div style={{ position: 'absolute', left: 166, top: 55, fontSize: 5.5, lineHeight: '7px', fontWeight: 700, letterSpacing: 0.6, color: '#333' }}>RESEARCH</div>
      <div style={{ position: 'absolute', left: 712, top: 49, width: 34, height: 2.5, background: '#2fa36b' }} />
      <div style={{ position: 'absolute', left: 712, top: 53, fontSize: 9, lineHeight: '11px', fontWeight: 700, color: '#2fa36b' }}>UPDATE</div>

      <div style={{ position: 'absolute', left: 57, top: 115, fontSize: 25.5, lineHeight: '30px', fontWeight: 300, color: '#1a1a1a', whiteSpace: 'nowrap' }}>Appendix: A-share Market Data</div>

      {/* Exhibit 12 */}
      <Title x={57} y={174.3} num="Exhibit 12:" text="ChiNext daily turnover (RMB bn) trend" />
      <ChartCanvas left={55} top={190} width={340} height={192} build={config12} />
      <Source x={57} y={395} lines={[SRC_CEIC]} />

      {/* Exhibit 13 */}
      <Title x={414} y={174} num="Exhibit 13:" text="A-share daily turnover (RMB bn) trend" />
      <ChartCanvas left={410} top={187} width={340} height={190} build={config13} />
      <Source x={414} y={383} lines={[SRC_CEIC]} />

      {/* Exhibit 14 */}
      <Title x={57} y={454} num="Exhibit 14:" text="Number of A-shares trading at limit up" />
      <ChartCanvas left={55} top={465} width={340} height={160} build={config14} />
      <Source x={57} y={641} lines={[SRC_WIND]} />

      {/* Exhibit 15 */}
      <Title x={414} y={454} num="Exhibit 15:" text="A-share margin financing (USD mn)" />
      <ChartCanvas left={410} top={466} width={340} height={184} build={config15} />
      <Source x={414} y={658} lines={[SRC_CEIC]} />

      {/* Exhibit 16 */}
      <Title x={57} y={717.7} num="Exhibit 16:" text="A-share equity futures turnover (RMB bn) trend" />
      <ChartCanvas left={55} top={732} width={340} height={170} build={config16} />
      <Source x={57} y={914} lines={[SRC_CEIC]} />

      {/* Exhibit 17 */}
      <Title x={414} y={717.7} num="Exhibit 17:" text="A-share new investor accounts" />
      <ChartCanvas left={410} top={729} width={340} height={194} build={config17} />
      <Source x={414} y={932.7} lines={['Source: CEIC, Morgan Stanley Research. Data as of April 17, 2024. Latest new investors registered', 'published by China Depository Settlement Corporation on September 9, 2023.']} />

      <div style={{ position: 'absolute', left: 57, top: 1003, fontSize: 8, lineHeight: '10px', color: '#777' }}>6</div>
    </div>
  );
}
